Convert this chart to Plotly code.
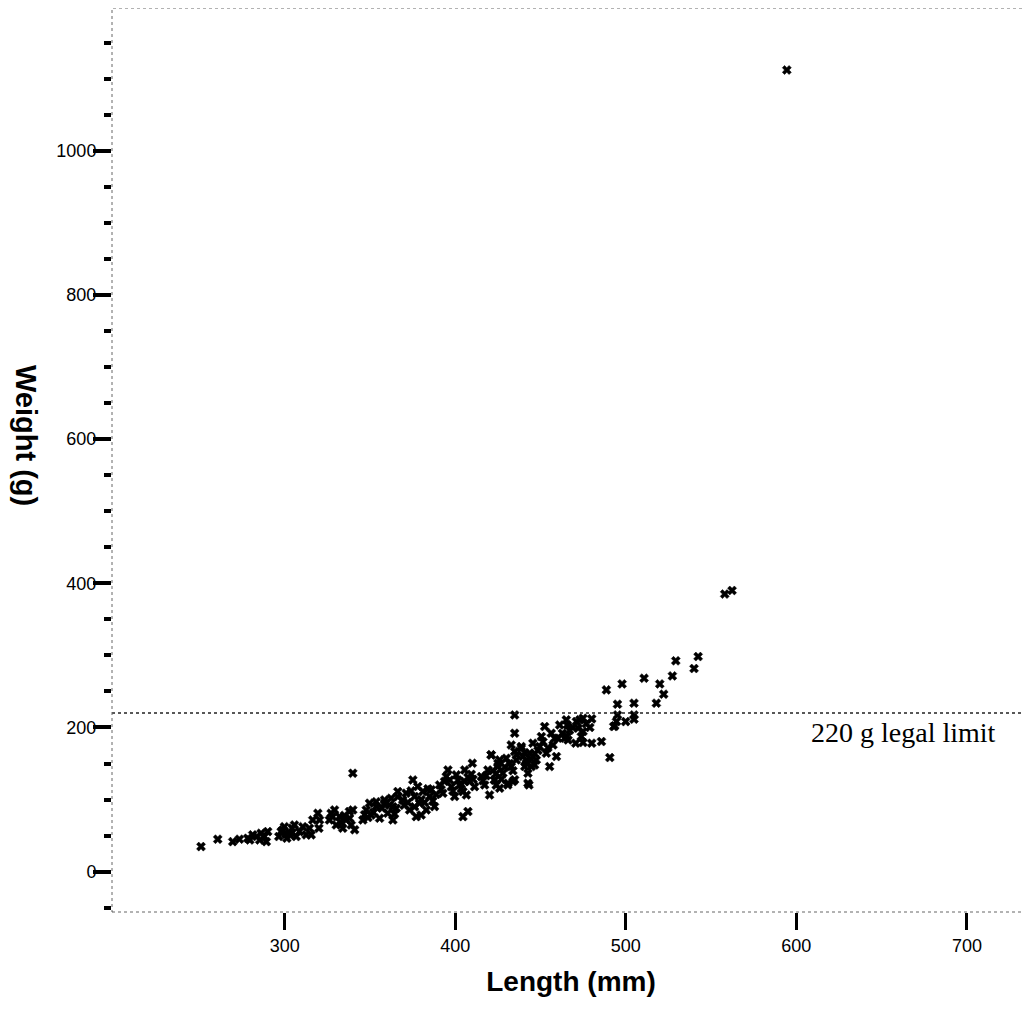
#!/usr/bin/env python3
"""
Length-weight scatter plot with the 220 g legal limit line.
"""

import plotly.graph_objects as go

# Fish lengths (mm) and weights (g)
LENGTHS = [
    250.9, 260.7, 269.5, 273.4,
    278.3, 281.2, 283.6, 286.1, 288.1, 290.0, 279.5, 285.3, 289.2,
    296.5, 297.9, 299.8, 301.2, 302.8, 304.3, 305.7, 306.7, 298.9, 303.5, 300.5,
    308.6, 310.6, 312.6, 314.5, 316.4, 315.5,
    319.4, 320.4, 320.0,
    326.2, 327.2, 329.2, 330.2, 332.1, 334.0, 336.0, 337.9, 339.9, 339.0, 341.0,
    328.0, 333.0, 335.0, 338.0,
    339.9,
    345.8, 347.8, 350.7, 353.6, 355.6, 358.5, 360.4, 362.4, 363.4, 365.4, 366.3,
    349.7, 353.6, 358.5, 363.4, 366.3,
    346.8, 352.0, 357.0, 361.4, 364.4, 348.8,
    369.2, 371.2, 373.2, 375.1, 376.1, 377.1, 379.0, 381.0, 383.0, 384.9, 385.9, 387.8, 380.0,
    370.0, 372.2, 374.1, 376.1, 378.0, 380.0, 382.0, 384.0, 386.8, 388.8,
    390.8, 392.7, 394.7, 395.7, 397.7, 399.6, 400.6, 402.5, 404.5, 405.5, 406.5, 408.4, 410.0, 411.3,
    391.7, 393.7, 396.7, 398.6, 401.6, 403.5, 405.5, 407.4, 409.4, 410.4,
    404.5, 407.4,
    415.3, 417.2, 419.1, 420.1, 421.1, 423.0, 425.0, 426.0, 427.9, 429.9, 430.8, 432.8, 433.8, 434.8,
    435.8, 432.8,
    416.2, 418.1, 422.0, 424.0, 427.0, 429.0, 431.8, 433.8, 436.0,
    438.7, 439.7, 441.7, 443.6, 445.5, 444.6, 442.6,
    446.5, 447.5, 443.2, 438.7, 441.7, 440.7, 442.6, 430.9, 434.8, 426.0, 425.0, 424.0, 423.0, 421.0,
    449.5, 450.5, 452.4, 453.4, 455.3, 456.3, 457.3, 459.3, 460.2,
    440.7, 444.6, 448.5, 451.4, 454.3, 458.3, 446.5,
    434.8, 434.8,
    461.2, 462.8, 464.1, 466.1, 465.1, 465.7, 465.5,
    467.0, 469.0, 476.8, 478.9,
    471.0, 473.0, 474.9, 472.0, 474.9, 473.9, 480.0,
    470.6, 474.9, 480.0, 485.7, 490.6,
    488.6, 497.8, 495.1, 504.8, 495.1, 504.8, 494.5, 493.5, 499.9, 504.8, 492.9,
    510.7, 519.9, 527.3, 529.3, 522.2, 517.9, 542.4, 540.0,
    558.0, 562.3,
    594.4,
]
WEIGHTS = [
    34.7, 45.0, 41.6, 45.0,
    46.3, 51.0, 48.6, 53.3, 48.6, 55.5, 43.9, 43.9, 41.6,
    48.6, 55.5, 62.4, 46.3, 53.3, 60.2, 64.8, 48.6, 58.0, 50.0, 52.0,
    55.5, 62.4, 51.0, 60.2, 71.7, 51.0,
    81.0, 71.7, 60.2,
    71.7, 81.0, 85.6, 64.8, 76.3, 60.2, 71.7, 83.3, 85.6, 64.8, 58.0,
    76.0, 68.0, 78.0, 74.0,
    136.5,
    71.7, 85.6, 78.6, 90.2, 74.1, 94.9, 81.0, 101.8, 71.7, 88.0, 111.0,
    95.0, 97.0, 99.5, 90.0, 104.0,
    79.0, 82.0, 88.0, 92.0, 80.0, 75.0,
    99.5, 108.8, 85.6, 127.2, 104.1, 76.3, 94.9, 111.0, 85.6, 104.1, 113.6, 90.2, 78.6,
    92.0, 96.0, 112.0, 90.0, 118.0, 100.0, 96.0, 115.0, 98.0, 107.0,
    120.3, 108.8, 131.8, 141.1, 117.9, 104.1, 134.2, 120.3, 111.0, 141.1, 106.4, 124.9, 150.4, 117.9,
    114.0, 125.0, 127.0, 112.0, 127.0, 115.0, 125.0, 131.0, 135.0, 128.0,
    76.3, 83.3,
    131.8, 120.3, 141.1, 106.4, 161.9, 127.2, 150.4, 115.7, 136.5, 157.3, 120.3, 145.7, 124.9, 166.5,
    155.0, 175.8,
    126.0, 133.0, 140.0, 120.0, 128.0, 145.0, 150.0, 140.0, 162.0,
    173.4, 159.6, 150.4, 164.3, 178.2, 145.7, 122.7,
    164.0, 155.0, 120.3, 171.0, 155.0, 146.0, 136.5, 122.7, 127.5, 155.0, 146.0, 136.0, 127.0, 162.0,
    173.4, 187.3, 201.2, 164.3, 145.7, 192.0, 175.8, 159.6, 185.1,
    165.0, 156.0, 168.0, 180.0, 172.0, 185.0, 148.0,
    217.4, 192.0,
    203.5, 192.0, 185.0, 182.7, 210.5, 203.5, 187.3,
    196.0, 200.0, 205.0, 200.0,
    208.1, 210.5, 212.8, 199.0, 194.3, 187.3, 211.9,
    178.2, 179.0, 178.2, 180.4, 158.2,
    252.1, 260.4, 232.3, 233.7, 217.4, 217.4, 208.1, 202.2, 208.1, 211.5, 201.2,
    268.3, 260.4, 271.5, 292.4, 246.2, 233.7, 298.3, 281.7,
    385.0, 390.0,
    1112.0,
]

LEGAL_LIMIT = 220
X_TICKS = [300, 400, 500, 600, 700]
Y_TICKS = [0, 200, 400, 600, 800, 1000]

FONT = "Arial, Liberation Sans, sans-serif"


def create_scatter() -> go.Figure:
    """Build the length vs weight scatter."""
    fig = go.Figure()

    fig.add_trace(go.Scatter(
        x=LENGTHS,
        y=WEIGHTS,
        mode="markers",
        marker=dict(symbol="x", size=8, color="black",
                    line=dict(color="black", width=0.5)),
        showlegend=False,
    ))

    # Legal limit line and label
    fig.add_hline(y=LEGAL_LIMIT, line=dict(color="#222222", width=1.5, dash="dot"))
    fig.add_annotation(
        x=663, y=193, text="220 g legal limit", showarrow=False,
        font=dict(family="Times New Roman, Liberation Serif, serif", size=28, color="black"),
        xanchor="center", yanchor="middle",
    )

    # y title sits a little above the middle of the axis in the original
    fig.add_annotation(
        xref="paper", yref="paper", x=-0.093, y=0.527,
        text="<b>Weight (g)</b>", textangle=90, showarrow=False,
        font=dict(family=FONT, size=29, color="black"),
        xanchor="center", yanchor="middle",
    )

    # Dotted frame round the plot area
    fig.add_shape(type="rect", xref="paper", yref="paper", x0=0, y0=0, x1=1, y1=1,
                  line=dict(color="#666666", width=1, dash="dot"), layer="above")

    # page body has an 8px margin, so the figure is sized to fit inside it
    fig.update_layout(
        width=1024,
        height=994,
        margin=dict(l=104, r=2, t=0, b=90),
        plot_bgcolor="white",
        paper_bgcolor="white",
        font=dict(family=FONT, color="black"),
        xaxis=dict(
            range=[198.7, 737],
            tickvals=X_TICKS,
            ticks="outside", ticklen=17, tickwidth=3, tickcolor="black",
            tickfont=dict(size=18),
            showgrid=False, zeroline=False, showline=False, automargin=False,
            title=dict(text="<b>Length (mm)</b>", font=dict(size=28), standoff=16),
        ),
        yaxis=dict(
            range=[-56, 1198],
            tickvals=Y_TICKS,
            ticks="outside", ticklen=18, tickwidth=4, tickcolor="black",
            tickfont=dict(size=18),
            ticklabelstandoff=-7,
            minor=dict(tickmode="linear", tick0=0, dtick=50, ticks="outside",
                       ticklen=7, tickwidth=4, tickcolor="black"),
            showgrid=False, zeroline=False, showline=False, automargin=False,
        ),
    )
    return fig


def main():
    fig = create_scatter()
    fig.write_html("out.html")


if __name__ == "__main__":
    main()
